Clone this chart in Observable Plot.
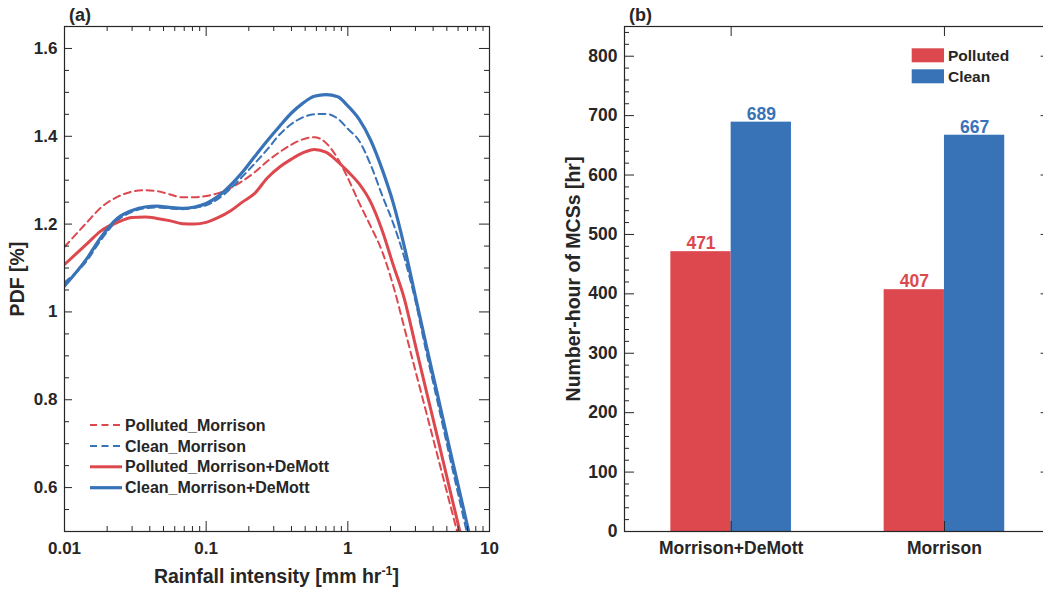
<!DOCTYPE html>
<html><head><meta charset="utf-8">
<script src="https://cdn.jsdelivr.net/npm/d3@7"></script>
<script src="https://cdn.jsdelivr.net/npm/@observablehq/plot@0.6"></script>
<style>
html,body{margin:0;padding:0;overflow:hidden;background:#fff;}
#wrap{position:relative;width:1043px;height:594px;overflow:hidden;font-family:"Liberation Sans",Arial,Helvetica,sans-serif;font-weight:bold;color:#262626;}
.abs{position:absolute;white-space:nowrap;line-height:1;}
#pa{position:absolute;left:0;top:0;width:520px;height:594px;}
#pb{position:absolute;left:520px;top:0;width:540px;height:594px;}
#pa svg,#pb svg{max-width:none !important;}
sup{font-size:12.5px;position:relative;top:-1px;vertical-align:super;line-height:0;}
</style></head><body><div id="wrap"><div id="pa"></div><div id="pb"></div></div>
<script>
// ---------- Panel (a) data: PDF of rainfall intensity ----------
const rain = [0.01,0.0145,0.018,0.024,0.03,0.037,0.045,0.055,0.068,0.083,0.1,0.12,0.15,0.18,0.22,0.27,0.33,0.4,0.48,0.58,0.7,0.85,1.0,1.2,1.45,1.75,2.1,2.5,3.0,3.6,4.3,5.2,6.2,7.5];
const pollutedMorrison = [1.148,1.205,1.237,1.263,1.274,1.277,1.275,1.268,1.261,1.261,1.264,1.270,1.283,1.298,1.318,1.343,1.364,1.381,1.393,1.398,1.385,1.349,1.305,1.249,1.195,1.137,1.058,0.965,0.866,0.768,0.672,0.569,0.474,0.37];
const cleanMorrison = [1.067,1.118,1.163,1.210,1.228,1.236,1.238,1.236,1.234,1.237,1.243,1.256,1.282,1.308,1.338,1.370,1.404,1.428,1.443,1.450,1.451,1.440,1.417,1.390,1.335,1.265,1.200,1.125,1.025,0.905,0.795,0.675,0.566,0.448];
const pollutedDeMott = [1.108,1.156,1.184,1.205,1.215,1.216,1.213,1.208,1.201,1.200,1.204,1.214,1.231,1.250,1.270,1.305,1.330,1.348,1.362,1.370,1.364,1.342,1.320,1.292,1.250,1.185,1.105,1.031,0.924,0.817,0.714,0.601,0.498,0.38];
const cleanDeMott = [1.059,1.123,1.169,1.215,1.231,1.239,1.241,1.238,1.236,1.239,1.247,1.262,1.290,1.318,1.354,1.390,1.423,1.453,1.475,1.491,1.495,1.490,1.469,1.439,1.391,1.324,1.246,1.150,1.035,0.920,0.811,0.693,0.586,0.469];
const seriesNames = ["Polluted_Morrison","Clean_Morrison","Polluted_Morrison+DeMott","Clean_Morrison+DeMott"];
const xTickValues = [0.01,0.1,1,10];
const yTickValuesA = [0.6,0.8,1.0,1.2,1.4,1.6];

// ---------- Panel (b) data: number-hour of MCSs ----------
const categories = ["Morrison+DeMott","Morrison"];
const pollutedHours = [471,407];
const cleanHours = [689,667];
const barSeries = ["Polluted","Clean"];
const yTickValuesB = [0,100,200,300,400,500,600,700,800];

const red = "#dd484e", blue = "#3873b8", ink = "#262626";
const font = "'Liberation Sans', Arial, Helvetica, sans-serif";

// ---------- Panel (a) ----------
const A = {w:520, h:594, ml:64, mr:31, mt:26, mb:63};
const fwA = A.w - A.ml - A.mr, fhA = A.h - A.mt - A.mb;
const yMinorA = d3.range(0.55, 1.651, 0.05).map(v => +v.toFixed(2)).filter(v => !yTickValuesA.some(t => Math.abs(t - v) < 1e-6));
const xMinorA = [0.01,0.1,1].flatMap(d => d3.range(2,10).map(k => +(k*d).toPrecision(3)));
const styles = [
  {values: pollutedMorrison, color: red, dash: "7,4.5", width: 2},
  {values: cleanMorrison, color: blue, dash: "7,4.5", width: 2},
  {values: pollutedDeMott, color: red, dash: null, width: 3},
  {values: cleanDeMott, color: blue, dash: null, width: 3.2}
];
const lineMarks = styles.map((s, k) => Plot.line(rain.map((x, i) => ({x, y: s.values[i], series: seriesNames[k]})), {
  x: "x", y: "y", stroke: s.color, strokeWidth: s.width, strokeDasharray: s.dash, curve: "monotone-x", clip: true
}));
const plotA = Plot.plot({
  width: A.w, height: A.h, marginLeft: A.ml, marginRight: A.mr, marginTop: A.mt, marginBottom: A.mb,
  style: {fontFamily: font, fontSize: "17px", fontWeight: "bold", color: ink, background: "transparent", overflow: "visible"},
  x: {type: "log", domain: [0.01, 10]},
  y: {domain: [0.5, 1.65]},
  marks: [
    ...lineMarks,
    Plot.frame({stroke: ink, strokeWidth: 1.2}),
    Plot.tickY(yTickValuesA, {y: d => d, insetRight: fwA - 8, stroke: ink, strokeWidth: 1}),
    Plot.tickY(yMinorA, {y: d => d, insetRight: fwA - 5, stroke: ink, strokeWidth: 1}),
    Plot.tickY(yTickValuesA, {y: d => d, insetLeft: fwA - 10, stroke: ink, strokeWidth: 1}),
    Plot.tickY(yMinorA, {y: d => d, insetLeft: fwA - 5, stroke: ink, strokeWidth: 1}),
    Plot.tickX(xTickValues, {x: d => d, insetTop: fhA - 10, stroke: ink, strokeWidth: 1}),
    Plot.tickX(xMinorA, {x: d => d, insetTop: fhA - 5, stroke: ink, strokeWidth: 1}),
    Plot.tickX(xTickValues, {x: d => d, insetBottom: fhA - 10, stroke: ink, strokeWidth: 1}),
    Plot.tickX(xMinorA, {x: d => d, insetBottom: fhA - 5, stroke: ink, strokeWidth: 1}),
    Plot.axisX({ticks: xTickValues, tickSize: 0, tickPadding: 10, tickFormat: d => String(d), label: null}),
    Plot.axisY({ticks: yTickValuesA, tickSize: 0, tickPadding: 7, tickFormat: d => (d === 1 ? "1" : d.toFixed(1)), label: null}),
    Plot.axisY({ticks: [], tickSize: 0, label: "PDF [%]", labelAnchor: "center", labelOffset: 54, labelArrow: "none", fontSize: 19.5})
  ]
});
document.getElementById("pa").appendChild(plotA);

// ---------- Panel (b) ----------
const B = {w:540, h:594, ml:104, mr:9.4, mt:26, mb:63};
const fwB = B.w - B.ml - B.mr, fhB = B.h - B.mt - B.mb;
const band = fwB / categories.length;
const barW = 60.3;
const rows = categories.map((c, i) => ({category: c, polluted: pollutedHours[i], clean: cleanHours[i]}));
const yMinorB = d3.range(20, 850, 20).filter(v => v % 100 !== 0);
const plotB = Plot.plot({
  width: B.w, height: B.h, marginLeft: B.ml, marginRight: B.mr, marginTop: B.mt, marginBottom: B.mb,
  style: {fontFamily: font, fontSize: "17.5px", fontWeight: "bold", color: ink, background: "transparent", overflow: "visible"},
  x: {type: "band", domain: categories, padding: 0, round: false},
  y: {domain: [0, 850]},
  marks: [
    Plot.barY(rows, {x: "category", y: "polluted", fill: red, insetLeft: band/2 - barW, insetRight: band/2}),
    Plot.barY(rows, {x: "category", y: "clean", fill: blue, insetLeft: band/2, insetRight: band/2 - barW}),
    Plot.text(rows, {x: "category", y: "polluted", text: d => String(d.polluted), dx: -barW/2, dy: -8, fill: red, fontSize: 17.5, fontWeight: "bold"}),
    Plot.text(rows, {x: "category", y: "clean", text: d => String(d.clean), dx: barW/2, dy: -8, fill: blue, fontSize: 17.5, fontWeight: "bold"}),
    Plot.frame({stroke: ink, strokeWidth: 1.2}),
    Plot.tickY(yTickValuesB, {y: d => d, insetRight: fwB - 10, stroke: ink}),
    Plot.tickY(yMinorB, {y: d => d, insetRight: fwB - 5, stroke: ink}),
    Plot.tickY(yTickValuesB, {y: d => d, insetLeft: fwB - 10, stroke: ink}),
    Plot.tickX(categories, {x: d => d, insetTop: fhB - 10, stroke: ink}),
    Plot.tickX(categories, {x: d => d, insetBottom: fhB - 10, stroke: ink}),
    Plot.axisX({tickSize: 0, tickPadding: 10, label: null}),
    Plot.axisY({ticks: yTickValuesB, tickSize: 0, tickPadding: 7, label: null}),
    Plot.axisY({ticks: [], tickSize: 0, label: "Number-hour of MCSs [hr]", labelAnchor: "center", labelOffset: 58, labelArrow: "none", fontSize: 19.5})
  ]
});
document.getElementById("pb").appendChild(plotB);

// ---------- Overlay text: panel labels, x title, legends ----------
const wrap = document.getElementById("wrap");
function addDiv(html, css) {
  const d = document.createElement("div");
  d.className = "abs"; d.innerHTML = html; Object.assign(d.style, css); wrap.appendChild(d); return d;
}
addDiv("(a)", {left: "69px", top: "6px", fontSize: "18px"});
addDiv("(b)", {left: "629px", top: "6px", fontSize: "18px"});
addDiv("Rainfall intensity [mm hr<sup>-1</sup>]", {left: "0px", width: "553px", textAlign: "center", top: "567px", fontSize: "19.5px"});

// legend (a)
const legA = document.createElementNS("http://www.w3.org/2000/svg", "svg");
legA.setAttribute("width", 260); legA.setAttribute("height", 90);
Object.assign(legA.style, {position: "absolute", left: "88px", top: "414px", overflow: "visible"});
seriesNames.forEach((name, k) => {
  const y = 11 + k * 20.9;
  const s = styles[k];
  const ln = document.createElementNS("http://www.w3.org/2000/svg", "line");
  ln.setAttribute("x1", 2); ln.setAttribute("x2", 34); ln.setAttribute("y1", y); ln.setAttribute("y2", y);
  ln.setAttribute("stroke", s.color); ln.setAttribute("stroke-width", s.width);
  if (s.dash) ln.setAttribute("stroke-dasharray", s.dash);
  legA.appendChild(ln);
  const t = document.createElementNS("http://www.w3.org/2000/svg", "text");
  t.setAttribute("x", 37); t.setAttribute("y", y); t.setAttribute("dy", "0.35em");
  t.setAttribute("fill", ink); t.setAttribute("font-size", "16px"); t.setAttribute("font-weight", "bold");
  t.setAttribute("font-family", font);
  t.textContent = name;
  legA.appendChild(t);
});
wrap.appendChild(legA);

// legend (b)
const legB = document.createElementNS("http://www.w3.org/2000/svg", "svg");
legB.setAttribute("width", 120); legB.setAttribute("height", 50);
Object.assign(legB.style, {position: "absolute", left: "911px", top: "47px", overflow: "visible"});
barSeries.forEach((name, k) => {
  const y = 1.3 + k * 21;
  const r = document.createElementNS("http://www.w3.org/2000/svg", "rect");
  r.setAttribute("x", 0.7); r.setAttribute("y", y); r.setAttribute("width", 32.3); r.setAttribute("height", 14);
  r.setAttribute("fill", k === 0 ? red : blue);
  legB.appendChild(r);
  const t = document.createElementNS("http://www.w3.org/2000/svg", "text");
  t.setAttribute("x", 37); t.setAttribute("y", y + 7); t.setAttribute("dy", "0.35em");
  t.setAttribute("fill", ink); t.setAttribute("font-size", "15.5px"); t.setAttribute("font-weight", "bold");
  t.setAttribute("font-family", font);
  t.textContent = name;
  legB.appendChild(t);
});
wrap.appendChild(legB);
</script>
</body></html>
